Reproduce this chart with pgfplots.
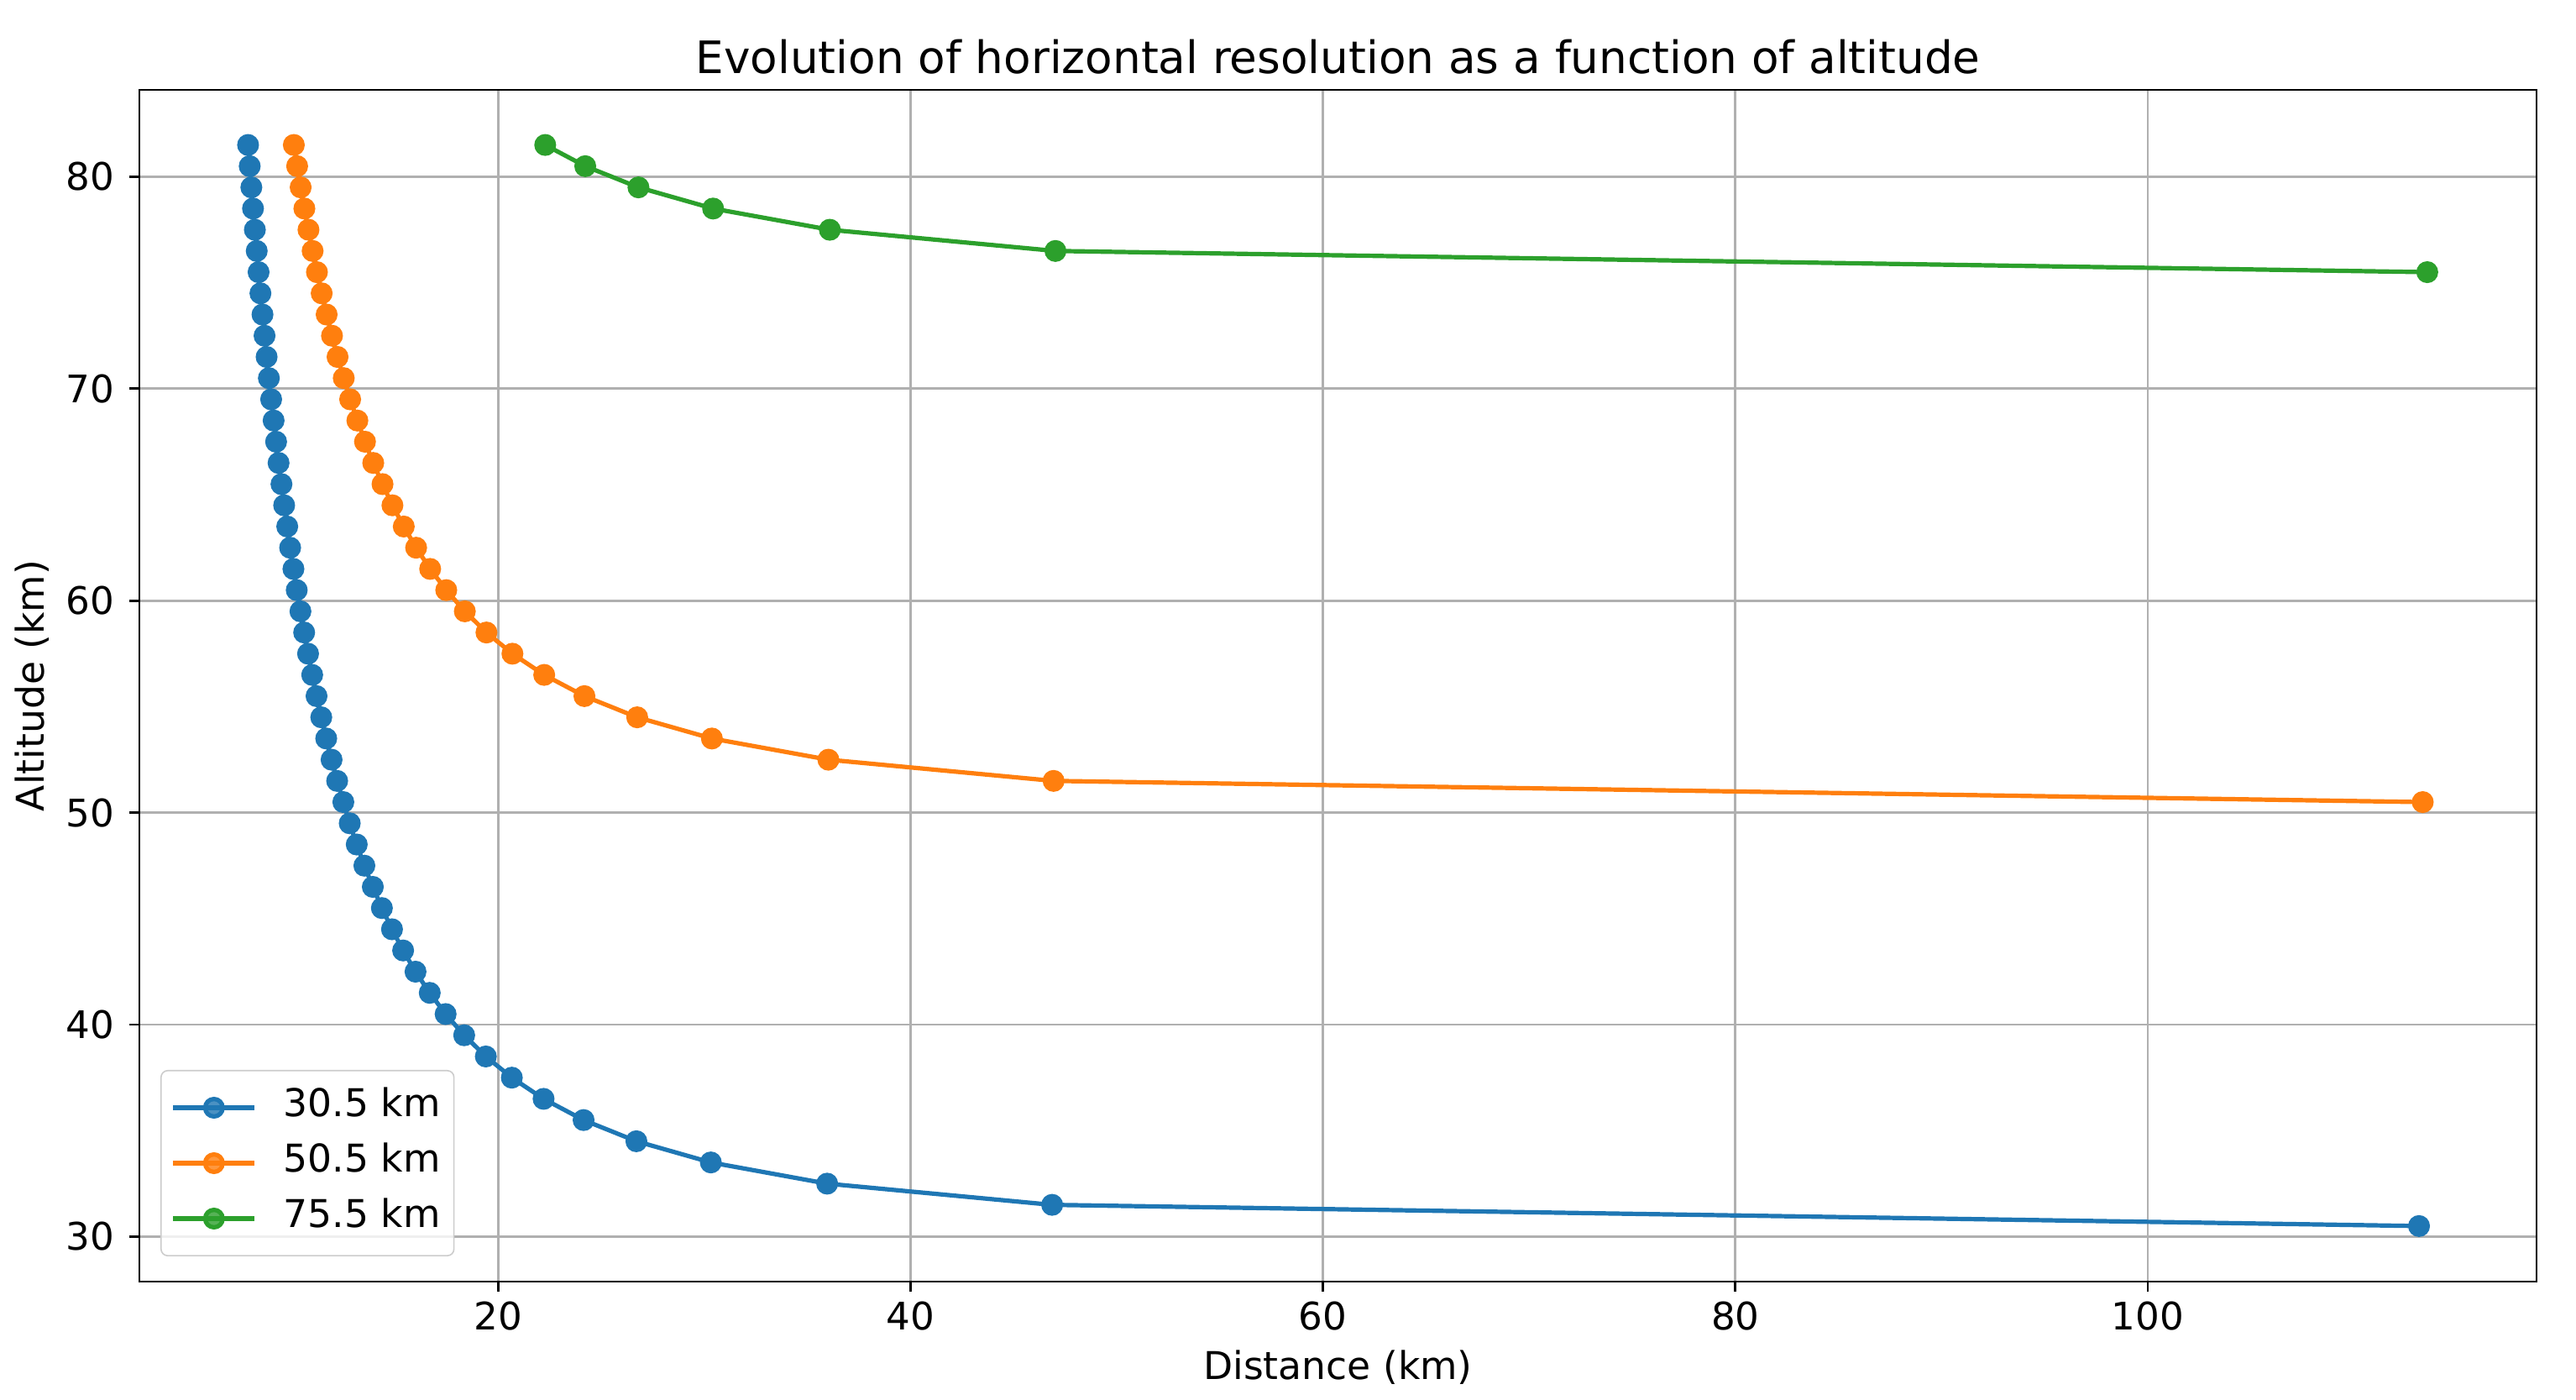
\documentclass[border=0pt]{standalone}
\usepackage{fontspec}
\setmainfont{DejaVu Sans}
\usepackage{pgfplots}
\pgfplotsset{compat=1.18}
\definecolor{tabblue}{HTML}{1F77B4}
\definecolor{taborange}{HTML}{FF7F0E}
\definecolor{tabgreen}{HTML}{2CA02C}
\definecolor{gridgray}{HTML}{B0B0B0}
\begin{document}
\begin{tikzpicture}
\begin{axis}[
  scale only axis,
  width=713.75pt, height=354.75pt,
  xmin=2.61, xmax=118.85,
  ymin=27.88, ymax=84.1,
  xtick={20,40,60,80,100},
  ytick={30,40,50,60,70,80},
  xtick pos=bottom, ytick pos=left,
  tick align=outside,
  major tick length=3pt,
  every tick/.style={black, line width=0.69pt},
  axis line style={black, line width=0.69pt},
  grid=major,
  major grid style={gridgray, line width=0.69pt},
  /pgf/number format/assume math mode=true,
  tick label style={font=\fontsize{11.3}{13.5}\selectfont},
  xticklabel style={inner sep=0pt, yshift=-2.75pt},
  yticklabel style={inner sep=0pt, xshift=-4.25pt},
  title={Evolution of horizontal resolution as a function of altitude},
  title style={font=\fontsize{13.3}{16}\selectfont, anchor=base, at={(axis description cs:0.5,1.01409)}, inner sep=0pt, yshift=-6pt},
  xlabel={Distance (km)},
  xlabel style={font=\fontsize{11.4}{13.5}\selectfont, anchor=base, at={(axis description cs:0.5,-0.08175)}, inner sep=0pt},
  ylabel={Altitude (km)},
  ylabel style={font=\fontsize{11.4}{13.5}\selectfont, anchor=base, at={(axis description cs:-0.03958,0.5)}, inner sep=0pt},
  legend style={at={(axis description cs:0,0)}, anchor=south west, xshift=6.25pt, yshift=7.5pt,
    draw=black!20, rounded corners=2pt, fill=white, fill opacity=0.8, text opacity=1,
    font=\fontsize{11.4}{13.5}\selectfont, inner xsep=3pt, inner ysep=3.8pt,
    row sep=2pt,
    /tikz/every odd column/.append style={column sep=7pt},
    nodes={text height=9pt, text depth=3.5pt, inner sep=1pt}},
  legend cell align=left,
  legend image code/.code={\draw[mark repeat=2, mark phase=2, #1] plot coordinates {(0pt,0pt) (12.1pt,0pt) (24.2pt,0pt)};},
  every axis plot/.append style={line width=1.3pt, mark=*, mark size=2.6pt, mark options={solid}},
]
\addplot[tabblue, mark options={fill=tabblue, draw=tabblue}] coordinates {
(113.15,30.5) (46.87,31.5) (35.96,32.5) (30.32,33.5) (26.71,34.5) (24.15,35.5) (22.21,36.5) (20.67,37.5)
(19.41,38.5) (18.36,39.5) (17.46,40.5) (16.69,41.5) (16.00,42.5) (15.40,43.5) (14.86,44.5) (14.37,45.5)
(13.93,46.5) (13.52,47.5) (13.15,48.5) (12.81,49.5) (12.50,50.5) (12.20,51.5) (11.93,52.5) (11.67,53.5)
(11.43,54.5) (11.20,55.5) (10.99,56.5) (10.79,57.5) (10.60,58.5) (10.42,59.5) (10.24,60.5) (10.08,61.5)
(9.92,62.5) (9.78,63.5) (9.63,64.5) (9.50,65.5) (9.36,66.5) (9.24,67.5) (9.12,68.5) (9.00,69.5)
(8.89,70.5) (8.78,71.5) (8.68,72.5) (8.58,73.5) (8.48,74.5) (8.39,75.5) (8.30,76.5) (8.21,77.5)
(8.12,78.5) (8.04,79.5) (7.96,80.5) (7.88,81.5)
};
\addlegendentry{30.5 km}
\addplot[taborange, mark options={fill=taborange, draw=taborange}] coordinates {
(113.33,50.5) (46.94,51.5) (36.02,52.5) (30.37,53.5) (26.75,54.5) (24.19,55.5) (22.24,56.5) (20.70,57.5)
(19.44,58.5) (18.39,59.5) (17.49,60.5) (16.71,61.5) (16.03,62.5) (15.43,63.5) (14.88,64.5) (14.40,65.5)
(13.95,66.5) (13.55,67.5) (13.18,68.5) (12.83,69.5) (12.52,70.5) (12.22,71.5) (11.95,72.5) (11.69,73.5)
(11.45,74.5) (11.22,75.5) (11.01,76.5) (10.81,77.5) (10.61,78.5) (10.43,79.5) (10.26,80.5) (10.10,81.5)
};
\addlegendentry{50.5 km}
\addplot[tabgreen, mark options={fill=tabgreen, draw=tabgreen}] coordinates {
(113.55,75.5) (47.03,76.5) (36.09,77.5) (30.43,78.5) (26.81,79.5) (24.23,80.5) (22.29,81.5)
};
\addlegendentry{75.5 km}
\end{axis}
\pgfresetboundingbox
\path (-41.5pt,-35.25pt) rectangle (725.5pt,381.5pt);
\end{tikzpicture}
\end{document}
